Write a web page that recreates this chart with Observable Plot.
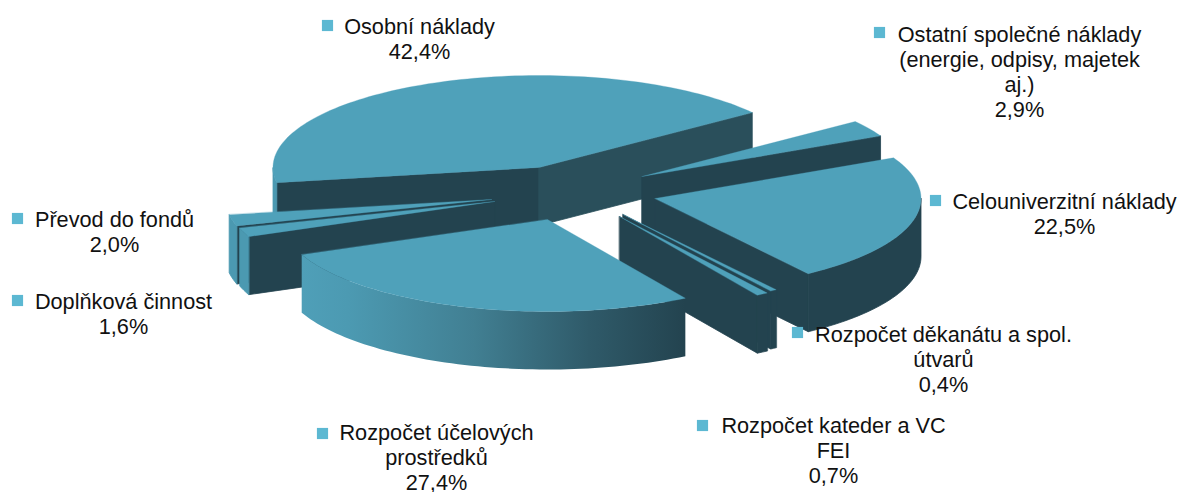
<!DOCTYPE html>
<html><head><meta charset="utf-8">
<script src="https://cdn.jsdelivr.net/npm/d3@7"></script>
<script src="https://cdn.jsdelivr.net/npm/@observablehq/plot@0.6"></script>
<style>html,body{margin:0;padding:0;background:#fff}svg{display:block}</style>
</head><body><div id="chart"></div>
<script>
// Data, clockwise from the first slice
const names = ["Osobní náklady","Ostatní společné náklady\n(energie, odpisy, majetek\naj.)","Celouniverzitní náklady","Rozpočet děkanátu a spol.\nútvarů","Rozpočet kateder a VC\nFEI","Rozpočet účelových\nprostředků","Doplňková činnost","Převod do fondů"];
const values = [42.4,2.9,22.5,0.4,0.7,27.4,1.6,2.0];
const valueLabels = ["42,4%","2,9%","22,5%","0,4%","0,7%","27,4%","1,6%","2,0%"];

// Layout of the exploded 3D pie (pixels on the identity scales)
const startAngle = 260.5, rx = 266, ry = 92, depth = 58;
const apexX = [538.5,641.5,654.5,622.5,619,547,494,491];
const apexY = [167,176,198,214,216,219,201,199];
const labelX = [419,1019,1064,943,833,436,123,114];
const labelY = [27,35,202,335,426,433,302,220];
const keyX = [327,879,935,797,702,322,17,17];
const keyY = [25,32,200,332,425,433,300,218];
const lineStep = 25;
const drawOrder = [0,7,6,1,2,3,4,5];

const TOP="#4fa1ba", WALL="#4b99b1", DARK="#23434f", BACK="#2a4f5b", KEY="#5cb8d2";
const rad = d => d*Math.PI/180;
const total = d3.sum(values);
let acc = startAngle;
const slices = values.map((v,i)=>{const a0=acc; acc+=v/total*360; return {i,a0,a1:acc};});
const pt = (s,a,z=0)=>({x:apexX[s.i]+rx*Math.sin(rad(a)),y:apexY[s.i]-ry*Math.cos(rad(a))+z});
const arc = (s,a0,a1,z=0)=>{const n=Math.max(2,Math.ceil((a1-a0)/1.5));return d3.range(n+1).map(k=>pt(s,a0+(a1-a0)*k/n,z));};
const apex = (s,z=0)=>({x:apexX[s.i],y:apexY[s.i]+z});
const poly = (pts,fill,sw=0.8)=>Plot.line(pts,{x:"x",y:"y",fill,stroke:fill,strokeWidth:sw,curve:"linear-closed"});

const marks = [];
// gradient definition for the lit-to-shadow outer wall
marks.push(()=>{
  const ns="http://www.w3.org/2000/svg";
  const defs=document.createElementNS(ns,"defs");
  const g=document.createElementNS(ns,"linearGradient");
  g.setAttribute("id","wallGrad");
  g.setAttribute("gradientUnits","objectBoundingBox");
  [[0,"#4f9fb8"],[0.12,"#4c9ab2"],[0.45,"#417f92"],[0.75,"#2f5a69"],[1,DARK]].forEach(([o,c])=>{
    const st=document.createElementNS(ns,"stop");st.setAttribute("offset",o);st.setAttribute("stop-color",c);g.appendChild(st);});
  defs.appendChild(g);return defs;
});
for (const idx of drawOrder){
  const s=slices[idx];
  const sa0=Math.sin(rad(s.a0)), sa1=Math.sin(rad(s.a1));
  if (sa0<0){marks.push(poly([apex(s),pt(s,s.a0),pt(s,s.a0,depth),apex(s,depth)],DARK));}
  if (sa1>0){marks.push(poly([apex(s),pt(s,s.a1),pt(s,s.a1,depth),apex(s,depth)],idx===0?BACK:DARK));}
  // visible (front) part of the outer wall: angles 90..270, also unwrapped
  for (const shift of [0,360]){
    const lo=Math.max(s.a0,90+shift), hi=Math.min(s.a1,270+shift);
    if (hi>lo){
      const fill = idx===5?"url(#wallGrad)":(idx===0||idx===6||idx===7?WALL:DARK);
      marks.push(poly([...arc(s,lo,hi),...arc(s,lo,hi,depth).reverse()],fill,idx===5?0:0.8));
    }
  }
  marks.push(poly([apex(s),...arc(s,s.a0,s.a1)],TOP,0.3));
}
// labels
const textRows = names.flatMap((n,i)=>[...n.split("\n"),valueLabels[i]].map((t,k)=>({t,x:labelX[i],y:labelY[i]+k*lineStep})));
marks.push(Plot.text(textRows,{x:"x",y:"y",text:"t",fontSize:21.7,fontFamily:"Liberation Sans, Arial, sans-serif",fill:"#111",textAnchor:"middle",lineAnchor:"middle"}));
marks.push(Plot.dot(keyX.map((x,i)=>({x,y:keyY[i]})),{x:"x",y:"y",symbol:"square",r:6.3,fill:KEY,stroke:"none"}));

const chart = Plot.plot({
  width:1179,height:492,margin:0,
  x:{domain:[0,1179],range:[0,1179],axis:null},
  y:{domain:[0,492],range:[0,492],axis:null},
  style:{background:"#fff"},
  marks
});
document.getElementById("chart").appendChild(chart);
</script></body></html>
